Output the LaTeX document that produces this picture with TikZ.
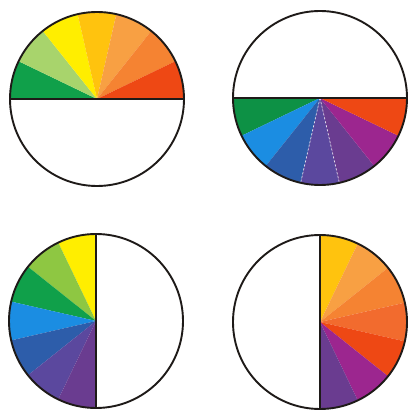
\documentclass[tikz,border=0pt]{standalone}
\usepackage{tikz}
\definecolor{WheelGreen}{HTML}{10A04A}
\definecolor{WheelGreenDark}{HTML}{0D9145}
\definecolor{WheelLimeLight}{HTML}{A8D46C}
\definecolor{WheelLime}{HTML}{8EC742}
\definecolor{WheelYellow}{HTML}{FFEE00}
\definecolor{WheelGold}{HTML}{FFC30E}
\definecolor{WheelPeach}{HTML}{F8A043}
\definecolor{WheelOrange}{HTML}{F58332}
\definecolor{WheelOrangeDeep}{HTML}{F26B2E}
\definecolor{WheelRed}{HTML}{EE4814}
\definecolor{WheelMagenta}{HTML}{9C268F}
\definecolor{WheelPurple}{HTML}{6A3C90}
\definecolor{WheelViolet}{HTML}{5B489E}
\definecolor{WheelNavy}{HTML}{2D5DAA}
\definecolor{WheelBlue}{HTML}{1B8DE2}
\definecolor{WheelEdge}{HTML}{1E1A18}

\begin{document}
\begin{tikzpicture}[x=1pt,y=1pt,
    rim/.style={draw=WheelEdge,line width=1.9pt},
    cut/.style={draw=WheelEdge,line width=2.6pt},
    seam/.style={draw=white,dashed,dash pattern=on 2pt off 2pt,line width=0.7pt,opacity=0.8}]
    \useasboundingbox[fill=white] (0,0) rectangle (414,409);
    \coordinate (wheelA) at (97,310);
    \coordinate (wheelB) at (320,311);
    \coordinate (wheelC) at (96,88);
    \coordinate (wheelD) at (320,87);

    \foreach \c [count=\i from 0] in {WheelGreen,WheelLimeLight,WheelYellow,WheelGold,WheelPeach,WheelOrange,WheelRed}
      \fill[\c] (wheelA) -- ++({180-\i*180/7}:87) arc[start angle={180-\i*180/7},end angle={180-(\i+1)*180/7},radius=87] -- cycle;
    \foreach \c [count=\i from 0] in {WheelGreenDark,WheelBlue,WheelNavy,WheelViolet,WheelPurple,WheelMagenta,WheelRed}
      \fill[\c] (wheelB) -- ++({180+\i*180/7}:87) arc[start angle={180+\i*180/7},end angle={180+(\i+1)*180/7},radius=87] -- cycle;
    \foreach \c [count=\i from 0] in {WheelYellow,WheelLime,WheelGreen,WheelBlue,WheelNavy,WheelViolet,WheelPurple}
      \fill[\c] (wheelC) -- ++({90+\i*180/7}:87) arc[start angle={90+\i*180/7},end angle={90+(\i+1)*180/7},radius=87] -- cycle;
    \foreach \c [count=\i from 0] in {WheelGold,WheelPeach,WheelOrange,WheelOrangeDeep,WheelRed,WheelMagenta,WheelPurple}
      \fill[\c] (wheelD) -- ++({90-\i*180/7}:87) arc[start angle={90-\i*180/7},end angle={90-(\i+1)*180/7},radius=87] -- cycle;

    \draw[seam] (wheelB) -- ++({180+3*180/7}:87);
    \draw[seam] (wheelB) -- ++({180+4*180/7}:87);

    \foreach \w in {wheelA,wheelB,wheelC,wheelD}
      \draw[rim] (\w) circle[radius=87];
    \draw[cut] (wheelA) +(180:87) -- +(0:87);
    \draw[cut] (wheelB) +(180:87) -- +(0:87);
    \draw[cut] (wheelC) +(90:87) -- +(270:87);
    \draw[cut] (wheelD) +(90:87) -- +(270:87);
\end{tikzpicture}
\end{document}
